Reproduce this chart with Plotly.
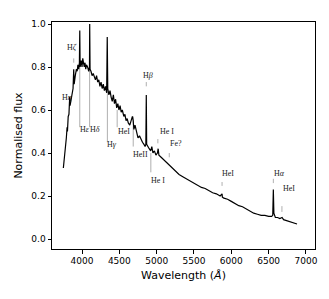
import plotly.graph_objects as go

# Spectrum (wavelength in Angstrom, normalised flux)
wavelength = [3750, 3760, 3770, 3780, 3790, 3800, 3805, 3815, 3825, 3835, 3840, 3850, 3862, 3870, 3880,
              3889, 3895, 3910, 3925, 3935, 3945, 3955, 3965, 3970, 3975, 3990, 4000, 4010, 4020, 4030,
              4040, 4050, 4060, 4075, 4090, 4100, 4103, 4108, 4120, 4135, 4150, 4165, 4180, 4195, 4210,
              4225, 4240, 4255, 4270, 4285, 4300, 4315, 4330, 4338, 4345, 4360, 4375, 4390, 4405, 4420,
              4435, 4450, 4465, 4480, 4495, 4510, 4525, 4540, 4560, 4575, 4590, 4605, 4620, 4640, 4660,
              4675, 4686, 4695, 4710, 4730, 4750, 4770, 4790, 4810, 4830, 4845, 4855, 4861, 4866, 4880,
              4900, 4920, 4935, 4950, 4970, 4990, 5010, 5020, 5030, 5060, 5090, 5120, 5150, 5170, 5200,
              5250, 5300, 5350, 5400, 5450, 5500, 5550, 5600, 5650, 5700, 5750, 5800, 5850, 5876, 5880,
              5900, 5950, 6000, 6050, 6100, 6150, 6200, 6250, 6300, 6350, 6400, 6450, 6500, 6540, 6555,
              6563, 6570, 6590, 6620, 6650, 6680, 6700, 6750, 6800, 6850, 6880]
flux = [0.33, 0.36, 0.40, 0.44, 0.47, 0.52, 0.50, 0.57, 0.58, 0.66, 0.62, 0.64, 0.66, 0.68, 0.70,
        0.79, 0.72, 0.76, 0.79, 0.78, 0.81, 0.79, 0.82, 0.97, 0.80, 0.83, 0.80, 0.84, 0.82, 0.80,
        0.82, 0.79, 0.81, 0.80, 0.78, 0.80, 1.00, 0.79, 0.78, 0.76, 0.77, 0.75, 0.74, 0.76, 0.73,
        0.74, 0.71, 0.73, 0.70, 0.72, 0.69, 0.71, 0.68, 0.94, 0.70, 0.67, 0.69, 0.66, 0.64, 0.67,
        0.63, 0.65, 0.61, 0.63, 0.60, 0.62, 0.59, 0.60, 0.57, 0.58, 0.55, 0.56, 0.54, 0.53, 0.56,
        0.57, 0.55, 0.51, 0.53, 0.49, 0.47, 0.48, 0.46, 0.45, 0.44, 0.43, 0.44, 0.67, 0.44, 0.43,
        0.42, 0.41, 0.43, 0.40, 0.41, 0.39, 0.40, 0.42, 0.39, 0.38, 0.37, 0.36, 0.35, 0.34, 0.33,
        0.315, 0.30, 0.29, 0.28, 0.27, 0.26, 0.25, 0.24, 0.235, 0.225, 0.215, 0.21, 0.20, 0.21, 0.195,
        0.19, 0.185, 0.175, 0.165, 0.155, 0.15, 0.14, 0.13, 0.12, 0.115, 0.11, 0.11, 0.105, 0.105, 0.11,
        0.23, 0.12, 0.10, 0.10, 0.095, 0.10, 0.09, 0.085, 0.08, 0.075, 0.07]

# Line identifications: label text, label position, marker line position and extent
line_labels = ["H<i>ζ</i>", "H<i>η</i>", "H<i>ε</i>", "H<i>δ</i>", "H<i>γ</i>", "HeI", "HeII", "He I",
               "H<i>β</i>", "He I", "Fe?", "HeI", "H<i>α</i>", "HeI"]
label_x = [3866, 3799, 4034, 4174, 4402, 4556, 4778, 5019, 4885, 5139, 5260, 5957, 6641, 6768]
label_y = [0.89, 0.66, 0.51, 0.51, 0.44, 0.50, 0.395, 0.27, 0.76, 0.50, 0.445, 0.307, 0.307, 0.233]
marker_wl = [3889, 3970, 4102, 4340, 4471, 4686, 4922, 4861, 5016, 5169, 5876, 6563, 6678]
marker_lo = [0.82, 0.52, 0.52, 0.45, 0.52, 0.43, 0.31, 0.71, 0.445, 0.38, 0.247, 0.26, 0.126]
marker_hi = [0.84, 0.80, 0.80, 0.72, 0.60, 0.57, 0.40, 0.73, 0.465, 0.40, 0.265, 0.28, 0.153]

x_ticks = [4000, 4500, 5000, 5500, 6000, 6500, 7000]
y_ticks = [0.0, 0.2, 0.4, 0.6, 0.8, 1.0]

mx, my = [], []
for w, lo, hi in zip(marker_wl, marker_lo, marker_hi):
    mx += [w, w, None]
    my += [lo, hi, None]

fig = go.Figure()
fig.add_trace(go.Scatter(x=mx, y=my, mode="lines", line=dict(color="#9a9a9a", width=0.8),
                         hoverinfo="skip", showlegend=False))
fig.add_trace(go.Scatter(x=wavelength, y=flux, mode="lines", line=dict(color="black", width=1.2),
                         showlegend=False))

for t, x, y in zip(line_labels, label_x, label_y):
    fig.add_annotation(x=x, y=y, text=t, showarrow=False,
                       font=dict(family="Liberation Serif", size=8, color="#222"))

fig.update_layout(
    width=313, height=283,
    margin=dict(l=44, r=6, t=14, b=42),
    paper_bgcolor="white", plot_bgcolor="white",
    font=dict(family="DejaVu Sans", size=9, color="black"),
    xaxis=dict(range=[3598, 7121], tickvals=x_ticks, ticks="outside", ticklen=3.5,
               tickcolor="black", showline=True, linecolor="black", linewidth=1, mirror=True,
               showgrid=False, zeroline=False, automargin=False,
               title=dict(text="Wavelength (<i>Å</i>)", font=dict(size=11), standoff=6)),
    yaxis=dict(range=[-0.0465, 1.0093], tickvals=y_ticks, tickformat=".1f", ticks="outside",
               ticklen=3.5, tickcolor="black", showline=True, linecolor="black", linewidth=1,
               mirror=True, showgrid=False, zeroline=False, automargin=False,
               title=dict(text="Normalised flux", font=dict(size=11), standoff=6)),
)

fig.write_html("out.html")
